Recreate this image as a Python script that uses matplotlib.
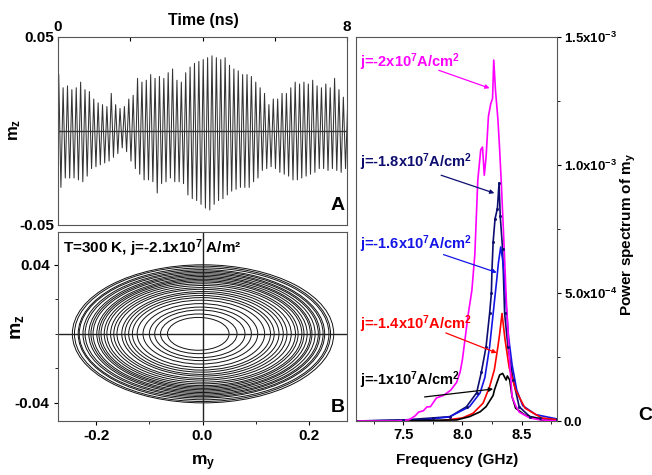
import numpy as np
import matplotlib
matplotlib.use('Agg')
import matplotlib.pyplot as plt
from matplotlib.patches import Ellipse
from matplotlib.ticker import FixedLocator, MultipleLocator

plt.rcParams['font.family'] = ['Liberation Sans', 'DejaVu Sans']
plt.rcParams['font.weight'] = 'bold'
plt.rcParams['mathtext.fontset'] = 'custom'
plt.rcParams['mathtext.rm'] = 'Liberation Sans:bold'
plt.rcParams['mathtext.bf'] = 'Liberation Sans:bold'
plt.rcParams['mathtext.it'] = 'Liberation Sans:bold'
plt.rcParams['mathtext.default'] = 'bf'

# ---------------- data: panel A (peak / trough amplitude of each precession cycle, units 1e-3)
period_ns = 8.0 / 66.0
upper_amp = [30, 23, 24, 22, 23, 26, 22, 21, 17, 15, 14, 13, 20, 14, 12, 13, 17, 19, 28, 26,
             27, 30, 28, 29, 28, 31, 33, 27, 26, 31, 34, 36, 37, 38, 39, 40, 39, 38, 39, 35,
             33, 32, 30, 30, 29, 26, 23, 20, 14, 17, 17, 20, 20, 23, 26, 25, 26, 25, 27, 24,
             23, 25, 23, 28, 22, 18, 15]
lower_amp = [30, 25, 25, 25, 26, 27, 24, 20, 19, 18, 17, 16, 14, 12, 9, 11, 16, 20, 23, 26,
             26, 27, 33, 28, 27, 25, 27, 27, 28, 34, 36, 37, 39, 41, 42, 39, 37, 36, 34, 32,
             31, 30, 30, 30, 27, 25, 21, 20, 19, 20, 22, 23, 24, 26, 26, 25, 24, 23, 22, 20,
             20, 21, 20, 21, 22, 20, 18]

# ---------------- data: panel B (orbit loops: semi-axes in m_y and m_z, centre offset in m_y)
loop_ay = [0.058, 0.072, 0.085, 0.096, 0.108, 0.120, 0.130, 0.137, 0.145, 0.152, 0.160,
           0.167, 0.174, 0.180, 0.186, 0.191, 0.196, 0.201, 0.206, 0.211, 0.216, 0.221,
           0.226, 0.231, 0.236, 0.241, 0.246]
loop_bz = [0.0095, 0.0115, 0.0138, 0.0155, 0.0175, 0.0195, 0.0210, 0.0222, 0.0235, 0.0245,
           0.0258, 0.0268, 0.0280, 0.0290, 0.0300, 0.0308, 0.0316, 0.0324, 0.0332, 0.0340,
           0.0348, 0.0356, 0.0364, 0.0372, 0.0382, 0.0392, 0.0400]
loop_cx = [-0.008, -0.007, -0.005, -0.004, -0.004, -0.003, -0.002, -0.002, -0.001, 0.000,
           -0.001, 0.000, 0.001, 0.000, 0.001, 0.000, 0.001, 0.002, 0.000, 0.001, 0.002,
           0.000, 0.001, -0.001, 0.002, 0.000, 0.001]

# ---------------- data: panel C (power spectra, P in units of 1e-4)
f_m20 = [7.10, 7.45, 7.55, 7.60, 7.63, 7.67, 7.70, 7.73, 7.78, 7.84, 7.90, 7.95, 7.98, 8.00,
         8.05, 8.08, 8.105, 8.13, 8.155, 8.17, 8.185, 8.20, 8.22, 8.24, 8.255, 8.265, 8.28,
         8.30, 8.315, 8.33, 8.35, 8.37, 8.40, 8.42, 8.45, 8.48, 8.57, 8.65, 8.80]
p_m20 = [0.0, 0.0, 0.05, 0.2, 0.35, 0.4, 0.55, 0.56, 0.9, 1.0, 1.2, 1.5, 1.9, 2.4,
         4.2, 5.1, 6.5, 9.4, 10.6, 10.7, 9.6, 10.3, 11.9, 12.4, 12.6, 14.1, 12.9,
         11.8, 10.6, 9.2, 7.1, 4.85, 2.27, 0.94, 0.6, 0.35, 0.12, 0.05, 0.0]

f_m18 = [7.10, 7.50, 7.75, 7.895, 8.035, 8.12, 8.16, 8.20, 8.23, 8.245, 8.25, 8.26, 8.276,
         8.296, 8.31, 8.32, 8.34, 8.357, 8.385, 8.43, 8.48, 8.57, 8.66, 8.80]
p_m18 = [0.0, 0.04, 0.12, 0.17, 0.56, 1.1, 1.9, 2.9, 4.2, 5.0, 5.9, 7.0, 7.9,
         8.3, 9.3, 8.0, 6.7, 4.2, 2.9, 1.6, 0.56, 0.17, 0.1, 0.06]

f_m16 = [7.10, 7.66, 7.89, 8.06, 8.15, 8.19, 8.23, 8.26, 8.29, 8.305, 8.324, 8.34, 8.35,
         8.37, 8.39, 8.42, 8.46, 8.51, 8.62, 8.80]
p_m16 = [0.0, 0.04, 0.16, 0.56, 1.1, 1.7, 2.9, 4.2, 5.5, 6.2, 6.8, 6.3, 5.9,
         4.5, 3.3, 2.2, 1.2, 0.6, 0.25, 0.08]

f_m14 = [7.10, 7.80, 8.00, 8.09, 8.175, 8.23, 8.27, 8.30, 8.315, 8.335, 8.36, 8.395, 8.45,
         8.53, 8.67, 8.80]
p_m14 = [0.0, 0.0, 0.12, 0.3, 0.7, 1.34, 2.0, 2.9, 3.4, 4.2, 3.2, 2.1, 1.21,
         0.5, 0.12, 0.05]

f_m10 = [7.10, 7.95, 8.06, 8.15, 8.20, 8.26, 8.27, 8.29, 8.315, 8.34, 8.37, 8.38, 8.40,
         8.42, 8.45, 8.53, 8.67, 8.80]
p_m10 = [0.0, 0.04, 0.17, 0.36, 0.56, 1.0, 1.2, 1.47, 1.8, 1.86, 1.6, 1.76, 1.6,
         0.95, 0.5, 0.23, 0.04, 0.0]

labels_C = ['j=-2x10$^{7}$A/cm$^{2}$', 'j=-1.8x10$^{7}$A/cm$^{2}$', 'j=-1.6x10$^{7}$A/cm$^{2}$',
            'j=-1.4x10$^{7}$A/cm$^{2}$', 'j=-1x10$^{7}$A/cm$^{2}$']
colors_C = ['#ff00ff', '#0d0d70', '#1414e6', '#ff0000', '#000000']
# annotation text anchors and arrow tail/tip (data coords: GHz, 1e-4)
text_xy = [(7.13, 14.0), (7.13, 10.1), (7.13, 6.9), (7.13, 3.8), (7.13, 1.6)]
arrow_from = [(7.80, 13.7), (7.82, 9.6), (7.84, 6.5), (7.86, 3.44), (7.68, 0.94)]
arrow_to = [(8.23, 13.0), (8.27, 8.9), (8.29, 5.8), (8.29, 2.66), (8.26, 1.25)]

# ---------------- figure
fig = plt.figure(figsize=(6.52, 4.75), dpi=100)
axA = fig.add_axes([58/652, 1-225/475, 289/652, 188/475])
axB = fig.add_axes([58/652, 1-421/475, 289/652, 189/475])
axC = fig.add_axes([356/652, 1-421/475, 201/652, 384/475])

# ---- Panel A
n = len(upper_amp)
t_up = np.arange(n) * period_ns + 0.02
t_lo = t_up + period_ns / 2
t_sig = np.empty(2 * n)
m_sig = np.empty(2 * n)
t_sig[0::2] = t_up
t_sig[1::2] = t_lo
m_sig[0::2] = np.array(upper_amp) * 1e-3
m_sig[1::2] = -np.array(lower_amp) * 1e-3
axA.plot(t_sig, m_sig, color='#333333', lw=0.75)
axA.axhline(0, color='#333333', lw=1.0)
axA.set_xlim(0, 8)
axA.set_ylim(-0.05, 0.05)
axA.xaxis.tick_top()
axA.set_xticks([0, 2, 4, 6, 8])
axA.set_xticklabels(['0', '', '', '', '8'])
axA.tick_params(axis='x', direction='in', length=3, pad=2, labelsize=11)
axA.set_yticks([-0.05, 0.05])
axA.set_yticklabels(['-0.05', '0.05'])
axA.tick_params(axis='y', direction='out', length=0, pad=3, labelsize=11)
for s in axA.spines.values():
    s.set_color('#555555')

# ---- Panel B
for a, b, cx in zip(loop_ay, loop_bz, loop_cx):
    axB.add_patch(Ellipse((cx, 0), 2 * a, 2 * b, fill=False, ec='#111111', lw=0.7))
axB.axhline(0, color='#222222', lw=1.0)
axB.axvline(0, color='#222222', lw=1.0)
axB.set_xlim(-0.272, 0.272)
axB.set_ylim(-0.0505, 0.059)
axB.set_xticks([-0.2, 0.0, 0.2])
axB.set_xticklabels(['-0.2', '0.0', '0.2'])
axB.xaxis.set_minor_locator(FixedLocator([-0.1, 0.1]))
axB.set_yticks([-0.04, 0.04])
axB.set_yticklabels(['-0.04', '0.04'])
axB.yaxis.set_minor_locator(FixedLocator([-0.02, 0.0, 0.02]))
axB.tick_params(which='major', direction='out', length=3, pad=3, labelsize=11)
axB.tick_params(which='minor', direction='out', length=2)
for s in axB.spines.values():
    s.set_color('#555555')

# ---- Panel C
curves = [(f_m18, p_m18, colors_C[1]), (f_m16, p_m16, colors_C[2]), (f_m14, p_m14, colors_C[3]),
          (f_m10, p_m10, colors_C[4]), (f_m20, p_m20, colors_C[0])]
for f, p, c in curves:
    axC.plot(f, np.array(p) * 1e-4, color=c, lw=1.2)
axC.plot(f_m18, np.array(p_m18) * 1e-4, ls='none', marker='s', ms=1.0, color=colors_C[1])
for lab, c, txy, a0, a1 in zip(labels_C, colors_C, text_xy, arrow_from, arrow_to):
    axC.text(txy[0], txy[1] * 1e-4, lab, color=c, fontsize=10.5, ha='left', va='center')
    axC.annotate('', xy=(a1[0], a1[1] * 1e-4), xytext=(a0[0], a0[1] * 1e-4),
                 arrowprops=dict(arrowstyle='-|>', color=c, lw=0.9, mutation_scale=6,
                                 shrinkA=0, shrinkB=0))
axC.set_xlim(7.1, 8.8)
axC.set_ylim(0, 1.5e-3)
axC.yaxis.tick_right()
axC.set_yticks([0, 5e-4, 1e-3, 1.5e-3])
axC.set_yticklabels(['0.0', '5.0x10$^{-4}$', '1.0x10$^{-3}$', '1.5x10$^{-3}$'])
axC.yaxis.set_minor_locator(MultipleLocator(2.5e-4))
axC.set_xticks([7.5, 8.0, 8.5])
axC.set_xticklabels(['7.5', '8.0', '8.5'])
axC.xaxis.set_minor_locator(FixedLocator([7.25, 7.75, 8.25, 8.75]))
axC.tick_params(which='major', direction='out', length=3, pad=2, labelsize=10.5)
axC.tick_params(axis='y', which='major', labelsize=9.5, pad=2)
axC.tick_params(which='minor', direction='out', length=2)
for s in axC.spines.values():
    s.set_color('#555555')

# ---- labels
fig.text(203/652, 1-21/475, 'Time (ns)', ha='center', va='center', fontsize=11.5)
fig.text(15/652, 1-130/475, 'm$_z$', ha='center', va='center', rotation=90, fontsize=12)
fig.text(18/652, 1-327/475, 'm$_z$', ha='center', va='center', rotation=90, fontsize=14)
fig.text(203/652, 1-463/475, 'm$_y$', ha='center', va='center', fontsize=12.5)
fig.text(457/652, 1-460/475, 'Frequency (GHz)', ha='center', va='center', fontsize=11)
fig.text(628/652, 1-234/475, 'Power spectrum of m$_y$', ha='center', va='center',
         rotation=90, fontsize=11)
fig.text(63/652, 1-248/475, 'T=300 K, j=-2.1x10$^{7}$ A/m²', ha='left', va='center', fontsize=11)
fig.text(338/652, 1-205/475, 'A', ha='center', va='center', fontsize=14)
fig.text(338/652, 1-408/475, 'B', ha='center', va='center', fontsize=14)
fig.text(645/652, 1-415/475, 'C', ha='center', va='center', fontsize=14)

fig.savefig('out.png', dpi=100)
